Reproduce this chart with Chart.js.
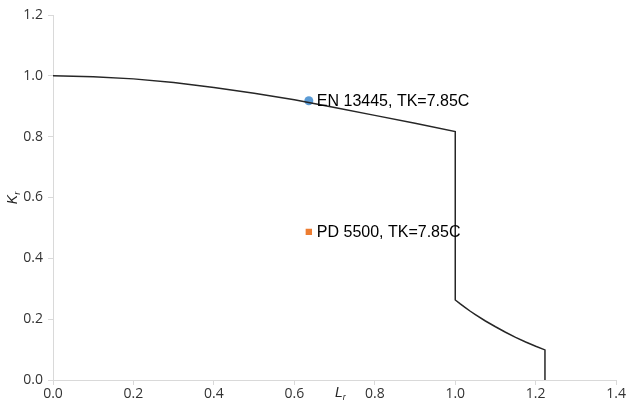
<!DOCTYPE html>
<html>
<head>
<meta charset="utf-8">
<script src="https://cdn.jsdelivr.net/npm/chart.js@4"></script>
<style>
  html, body { margin: 0; padding: 0; background: #fff; }
  #wrap { width: 627px; height: 407px; }
</style>
</head>
<body>
<div id="wrap"><canvas id="fad"></canvas></div>
<script>
// Curva de avaliação
const curveLr = [0, 0.1, 0.2, 0.3, 0.4, 0.5, 0.6, 0.7, 0.8, 0.9, 1.0,
                 1.0, 1.0125, 1.025, 1.0375, 1.05, 1.075, 1.1, 1.125, 1.15, 1.175, 1.2, 1.223, 1.223];
const curveKr = [1.0, 0.997, 0.990, 0.978, 0.962, 0.943, 0.921, 0.896, 0.870, 0.844, 0.817,
                 0.263, 0.250, 0.238, 0.226, 0.215, 0.194, 0.175, 0.157, 0.140, 0.125, 0.111, 0.099, 0.0];

// Pontos avaliados
const pointNames = ['EN 13445, TK=7.85C', 'PD 5500, TK=7.85C'];
const pointLr = [0.636, 0.636];
const pointKr = [0.918, 0.487];
const pointColors = ['#5b9bd5', '#ed7d31'];
const pointStyles = ['circle', 'rect'];

const xTicks = [0, 0.2, 0.4, 0.6, 0.8, 1.0, 1.2, 1.4];
const yTicks = [0, 0.2, 0.4, 0.6, 0.8, 1.0, 1.2];

const axisGray = '#d9d9d9';
const tickText = '#333333';

const datasets = [{
  label: 'FAD',
  data: curveLr.map((x, i) => ({ x: x, y: curveKr[i] })),
  showLine: true,
  borderColor: '#262626',
  borderWidth: 1.5,
  pointRadius: 0,
  tension: 0
}];
pointNames.forEach((name, i) => {
  datasets.push({
    label: name,
    data: [{ x: pointLr[i], y: pointKr[i] }],
    backgroundColor: pointColors[i],
    borderColor: pointColors[i],
    pointStyle: pointStyles[i],
    pointRadius: 4.5,
    borderWidth: 0
  });
});

// Rótulos dos pontos e títulos dos eixos (K_r, L_r)
const labelsPlugin = {
  id: 'labelsPlugin',
  afterDatasetsDraw(chart) {
    const ctx = chart.ctx;
    const xs = chart.scales.x, ys = chart.scales.y;
    ctx.save();
    ctx.fillStyle = '#000';
    ctx.font = '16px "Liberation Sans", Arial, sans-serif';
    ctx.textBaseline = 'middle';
    ctx.textAlign = 'left';
    pointNames.forEach((name, i) => {
      ctx.fillText(name, xs.getPixelForValue(pointLr[i]) + 8, ys.getPixelForValue(pointKr[i]) + 1);
    });

    // L_r
    const lx = 335, ly = 393;
    ctx.font = 'italic 14px "Liberation Sans", Arial, sans-serif';
    ctx.fillStyle = '#262626';
    ctx.fillText('L', lx, ly);
    const w = ctx.measureText('L').width;
    ctx.font = 'italic 9px "Liberation Sans", Arial, sans-serif';
    ctx.fillText('r', lx + w, ly + 4);

    // K_r (rotacionado)
    ctx.translate(13, 197);
    ctx.rotate(-Math.PI / 2);
    ctx.font = 'italic 14px "Liberation Sans", Arial, sans-serif';
    const kw = ctx.measureText('K').width;
    ctx.fillText('K', -(kw + 5) / 2, 0);
    ctx.font = 'italic 9px "Liberation Sans", Arial, sans-serif';
    ctx.fillText('r', -(kw + 5) / 2 + kw, 4);
    ctx.restore();
  }
};

new Chart(document.getElementById('fad'), {
  type: 'scatter',
  data: { datasets: datasets },
  options: {
    responsive: true,
    maintainAspectRatio: false,
    animation: false,
    layout: { padding: { top: 15, right: 0, left: 0, bottom: 0 } },
    plugins: {
      legend: { display: false },
      tooltip: { enabled: false }
    },
    scales: {
      x: {
        type: 'linear',
        min: 0, max: 1.4,
        afterBuildTicks: s => { s.ticks = xTicks.map(v => ({ value: v })); },
        afterFit: s => { s.height = 27; },
        ticks: {
          color: tickText,
          font: { size: 14, family: '"Open Sans", sans-serif' },
          padding: 1,
          callback: v => v.toFixed(1)
        },
        grid: { drawOnChartArea: false, color: axisGray, tickLength: 5 },
        border: { color: axisGray }
      },
      y: {
        type: 'linear',
        min: 0, max: 1.2,
        afterBuildTicks: s => { s.ticks = yTicks.map(v => ({ value: v })); },
        afterFit: s => { s.width = 53; },
        ticks: {
          color: tickText,
          font: { size: 14, family: '"Open Sans", sans-serif' },
          padding: 5,
          callback: v => v.toFixed(1)
        },
        grid: { drawOnChartArea: false, color: axisGray, tickLength: 5 },
        border: { color: axisGray }
      }
    }
  },
  plugins: [labelsPlugin]
});
</script>
</body>
</html>
